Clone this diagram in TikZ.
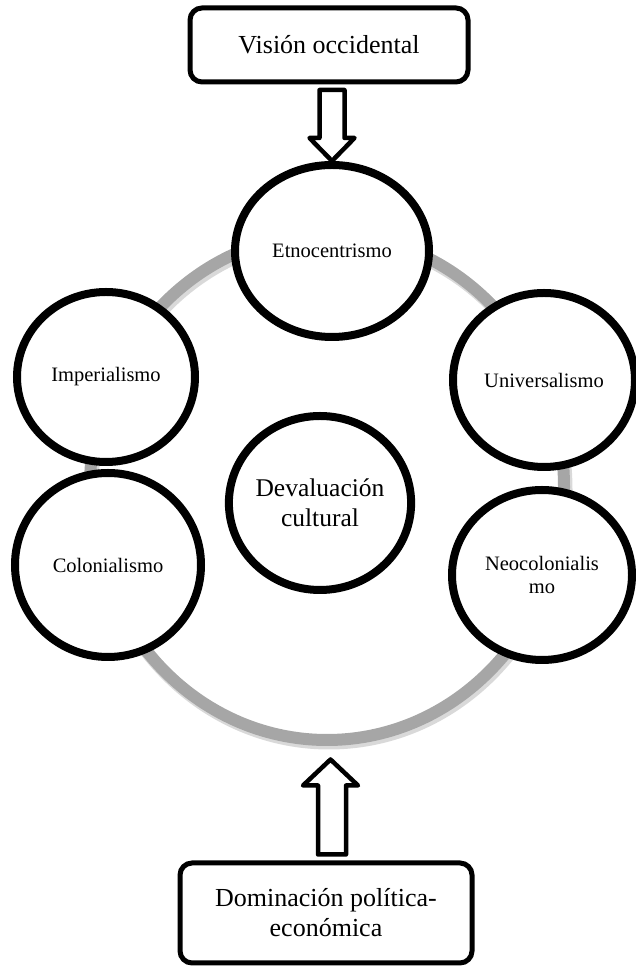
\documentclass[tikz,border=0pt]{standalone}
\usepackage{fontspec}
\setmainfont{Liberation Serif}
\usepackage{tikz}
\usetikzlibrary{calc,shapes.geometric,shadows,positioning}
\definecolor{ringgray}{RGB}{166,166,166}
\tikzset{
	idea/.style={
		draw, ellipse, line width=8pt, fill=white,
		inner sep=0pt, text=black, align=center,
		font=\fontsize{20.5}{23}\selectfont,
		drop shadow={shadow xshift=2pt, shadow yshift=-3pt, opacity=0.25}
	},
	framebox/.style={
		draw, rectangle, rounded corners=12pt, line width=5pt,
		fill=white, align=center, text=black,
		font=\fontsize{26}{30}\selectfont
	},
	hollowarrow/.style={draw, line width=4.5pt, line join=round, fill=white},
	ringline/.style={draw=ringgray, line width=12pt}
}

\begin{document}
\begin{tikzpicture}[x=1pt, y=1pt]
				\useasboundingbox (0,0) rectangle (635,966);
				% ring behind the circles
				\draw[black!15, line width=13pt] (329,476) ellipse [x radius=237, y radius=253];
				\draw[ringline] (327,479) ellipse [x radius=237, y radius=253];
				\node[framebox, minimum width=278, minimum height=74] (vision) at (329,921) {Visión occidental};
				\node[framebox, minimum width=292, minimum height=100] (domin) at (326,53) {Dominación política-\\económica};
				\node[idea, minimum width=194, minimum height=172] (etno) at (332,715) {Etnocentrismo};
				\node[idea, minimum width=178, minimum height=170] (imper) at (106,589) {Imperialismo};
				\node[idea, minimum width=182, minimum height=174] (univ) at (544,586) {Universalismo};
				\node[idea, minimum width=180, minimum height=174, font=\fontsize{25.5}{30}\selectfont] (deval) at (320,463) {Devaluación\\cultural};
				\node[idea, minimum width=186, minimum height=184] (colon) at (108,401) {Colonialismo};
				\node[idea, minimum width=180, minimum height=170] (neoc) at (542,391) {Neocolonialis\\mo};
				% block arrows
				\draw[hollowarrow] (etno.north) -- ++(-22.5,23) -- ++(10,0) -- ++(0,48) -- ++(25,0) -- ++(0,-48) -- ++(10,0) -- cycle;
				\draw[hollowarrow] ($(domin.north)+(-8,6)$) -- ++(0,69) -- ++(-15,0) -- ++(27.5,26) -- ++(27.5,-26) -- ++(-12,0) -- ++(0,-69) -- cycle;
\end{tikzpicture}
\end{document}
